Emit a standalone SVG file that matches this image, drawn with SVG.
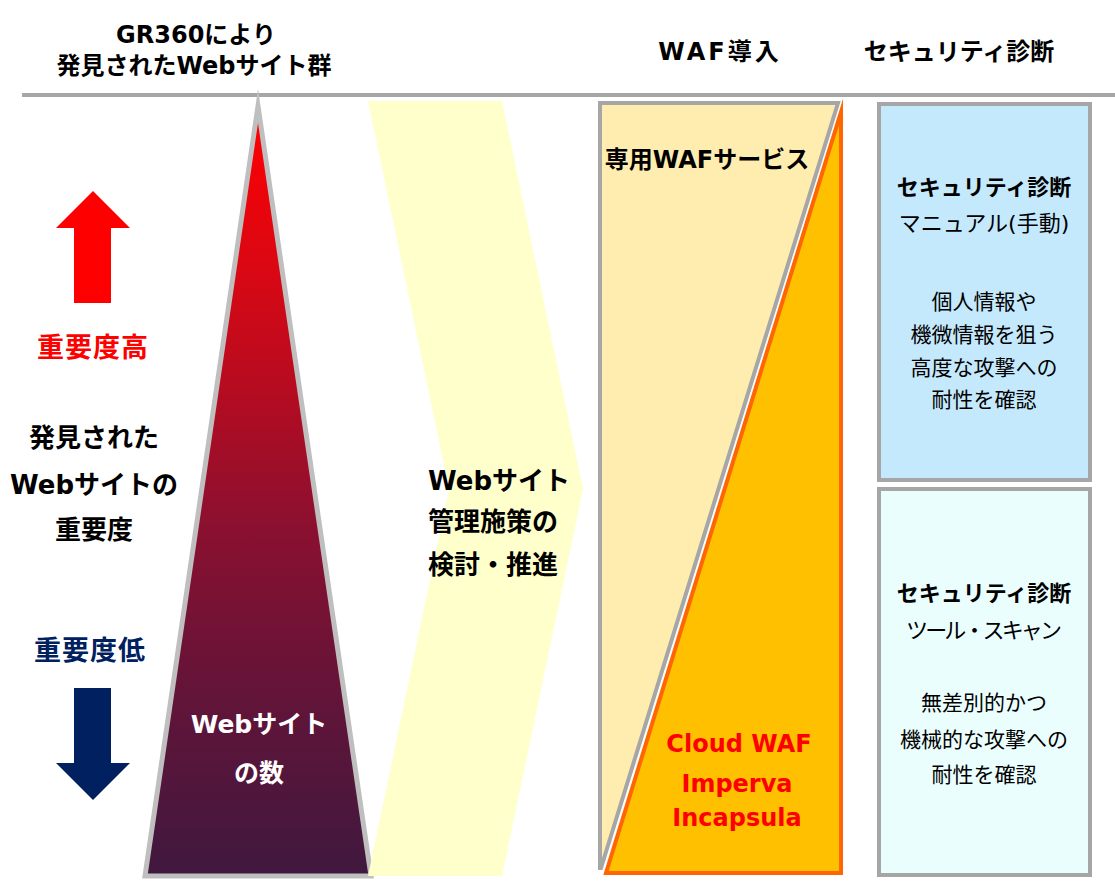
<svg xmlns="http://www.w3.org/2000/svg" width="1115" height="881" viewBox="0 0 1115 881">
<defs>
<linearGradient id="triGrad" gradientUnits="userSpaceOnUse" x1="0" y1="106" x2="0" y2="876">
<stop offset="0" stop-color="#ff0000"/>
<stop offset="0.22" stop-color="#d80814"/>
<stop offset="0.55" stop-color="#8a1030"/>
<stop offset="0.75" stop-color="#651438"/>
<stop offset="1" stop-color="#40183f"/>
</linearGradient>
<style>
.t{font-family:"DejaVu Sans","Noto Sans CJK JP",sans-serif;font-weight:bold;text-anchor:middle;fill:#000}
.r{font-family:"DejaVu Sans","Noto Sans CJK JP",sans-serif;font-weight:normal;text-anchor:middle;fill:#000}
.box{stroke:#a6a6a6;stroke-width:4}
</style>
</defs>
<rect width="1115" height="881" fill="#ffffff"/>

<g id="headers">
<text class="t" x="196" y="43" font-size="24">GR360により</text>
<text class="t" x="194" y="74" font-size="24">発見されたWebサイト群</text>
<text class="t" x="720" y="60" font-size="24" letter-spacing="3">WAF導入</text>
<text class="t" x="959" y="60" font-size="24">セキュリティ診断</text>
</g>

<line x1="22" y1="95" x2="1115" y2="95" stroke="#a6a6a6" stroke-width="4"/>

<g id="importance">
<polygon points="93,191 130,228 111,228 111,303 74,303 74,228 56,228" fill="#ff0000"/>
<text class="t" x="93" y="357" font-size="27" style="fill:#ff0000" letter-spacing="1">重要度高</text>
<text class="t" x="94" y="447" font-size="26">発見された</text>
<text class="t" x="94" y="494" font-size="26">Webサイトの</text>
<text class="t" x="94" y="539" font-size="26">重要度</text>
<text class="t" x="90" y="660" font-size="27" style="fill:#002060" letter-spacing="1">重要度低</text>
<polygon points="74,688 111,688 111,763 130,763 93,800 56,763 74,763" fill="#002060"/>
</g>

<g id="triangle">
<polygon points="258,106 371,876 145,876" fill="url(#triGrad)" stroke="#bfbfbf" stroke-width="5" stroke-miterlimit="10"/>
<text class="t" x="259" y="733" font-size="25" style="fill:#ffffff">Webサイト</text>
<text class="t" x="259" y="782" font-size="25" style="fill:#ffffff">の数</text>
</g>

<g id="chevron">
<polygon points="368,101 502,101 583,489 502,876 368,876 449,489" fill="#ffffcc"/>
<text class="t" x="428" y="490" font-size="26" style="text-anchor:start">Webサイト</text>
<text class="t" x="428" y="531" font-size="26" style="text-anchor:start">管理施策の</text>
<text class="t" x="428" y="574" font-size="26" style="text-anchor:start">検討・推進</text>
</g>

<g id="waf">
<polygon class="box" points="600,103 838,103 601,868 600,868" fill="#ffedb0" stroke-linejoin="miter"/>
<polygon points="841,112 841,873 606,873" fill="#ffc000" stroke="#ff6600" stroke-width="4" stroke-miterlimit="10"/>
<text class="t" x="707" y="168" font-size="24">専用WAFサービス</text>
<text class="t" x="739" y="752" font-size="24" style="fill:#ff0000">Cloud WAF</text>
<text class="t" x="737" y="792" font-size="24" style="fill:#ff0000">Imperva</text>
<text class="t" x="737" y="826" font-size="24" style="fill:#ff0000">Incapsula</text>
</g>

<g id="manual">
<rect class="box" x="879" y="104" width="211" height="376" fill="#c5e9fc"/>
<text class="t" x="984" y="195" font-size="22">セキュリティ診断</text>
<text class="r" x="984" y="231" font-size="22" font-weight="500">マニュアル(手動)</text>
<text class="r" x="984" y="309" font-size="21">個人情報や</text>
<text class="r" x="984" y="342" font-size="21">機微情報を狙う</text>
<text class="r" x="984" y="375" font-size="21">高度な攻撃への</text>
<text class="r" x="984" y="407" font-size="21">耐性を確認</text>
</g>

<g id="scan">
<rect class="box" x="879" y="489" width="211" height="386" fill="#ebfefe"/>
<text class="t" x="984" y="601" font-size="22">セキュリティ診断</text>
<text class="r" x="984" y="638" font-size="22" textLength="156" lengthAdjust="spacing">ツール・スキャン</text>
<text class="r" x="984" y="710" font-size="21">無差別的かつ</text>
<text class="r" x="984" y="747" font-size="21">機械的な攻撃への</text>
<text class="r" x="984" y="782" font-size="21">耐性を確認</text>
</g>

<g id="connectors"></g>
</svg>
